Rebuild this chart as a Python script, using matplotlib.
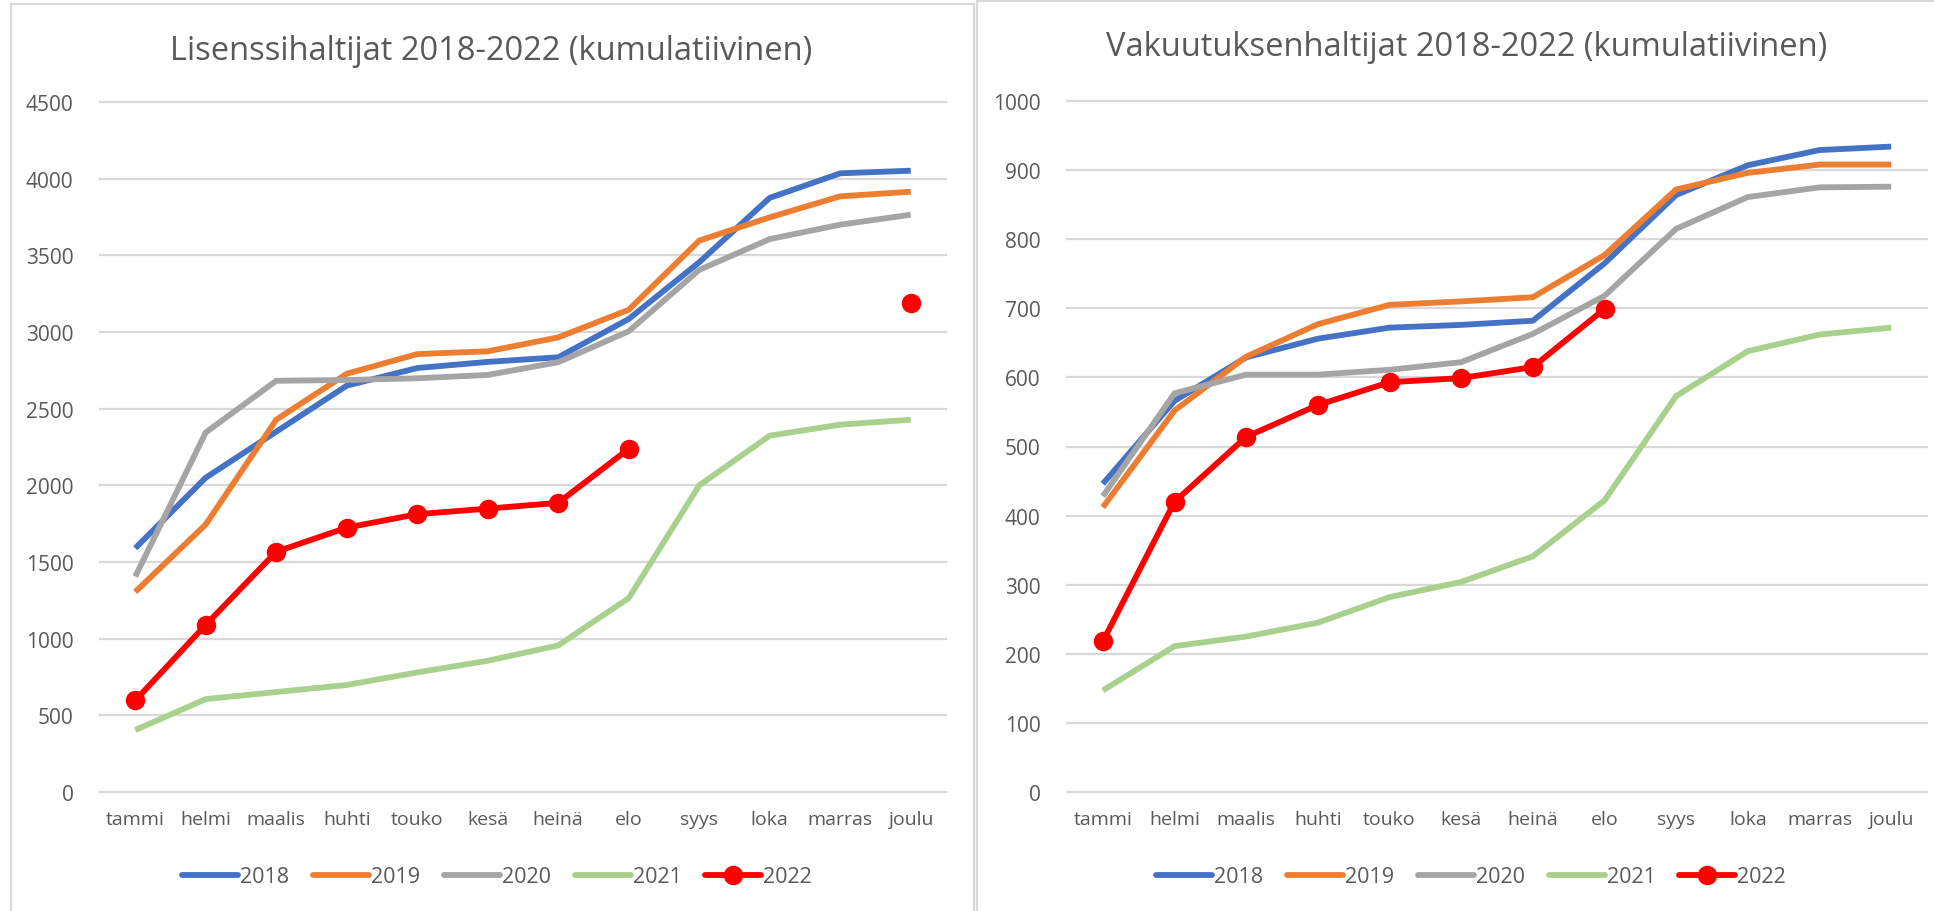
import numpy as np
import matplotlib
matplotlib.use("Agg")
import matplotlib.pyplot as plt
from matplotlib.patches import Rectangle

plt.rcParams['font.family'] = ['Open Sans', 'DejaVu Sans']

months = ["tammi", "helmi", "maalis", "huhti", "touko", "kesä", "heinä",
          "elo", "syys", "loka", "marras", "joulu"]
years = ["2018", "2019", "2020", "2021", "2022"]

nan = np.nan
# Lisenssihaltijat
lic_2018 = [1590, 2050, 2350, 2650, 2765, 2805, 2835, 3085, 3455, 3875, 4035, 4052]
lic_2019 = [1305, 1745, 2428, 2728, 2856, 2874, 2965, 3145, 3596, 3748, 3885, 3915]
lic_2020 = [1405, 2345, 2682, 2687, 2698, 2720, 2803, 3005, 3405, 3606, 3700, 3765]
lic_2021 = [404, 606, 652, 698, 780, 856, 956, 1265, 2000, 2324, 2396, 2428]
lic_2022 = [597, 1090, 1567, 1724, 1812, 1848, 1886, 2238, nan, nan, nan, 3192]

# Vakuutuksenhaltijat
ins_2018 = [446, 566, 629, 656, 672, 676, 682, 765, 864, 907, 929, 934]
ins_2019 = [412, 552, 630, 677, 705, 710, 716, 777, 872, 896, 908, 908]
ins_2020 = [428, 577, 604, 604, 611, 622, 663, 718, 815, 861, 875, 876]
ins_2021 = [147, 211, 225, 245, 282, 304, 341, 422, 573, 638, 662, 672]
ins_2022 = [218, 420, 514, 560, 593, 599, 615, 699, nan, nan, nan, nan]

lic_ticks = [0, 500, 1000, 1500, 2000, 2500, 3000, 3500, 4000, 4500]
ins_ticks = [0, 100, 200, 300, 400, 500, 600, 700, 800, 900, 1000]

titles = ["Lisenssihaltijat 2018-2022 (kumulatiivinen)",
          "Vakuutuksenhaltijat 2018-2022 (kumulatiivinen)"]

colors = ["#4472C4", "#ED7D31", "#A5A5A5", "#A9D18E", "#FF0000"]
TXT = "#595959"
GRID = "#D9D9D9"

W, H = 1934, 912
fig = plt.figure(figsize=(W / 100, H / 100), dpi=100)

# panel frames
for (x0, x1, y0) in [(11, 974, 5), (977, 1940, 2)]:
    fig.patches.append(Rectangle((x0 / W, -0.05), (x1 - x0) / W, (H - y0) / H + 0.05,
                                 transform=fig.transFigure, fill=False,
                                 edgecolor=GRID, linewidth=1.6))

def fx(px):
    return px / W

def fy(py):
    return 1 - py / H

panels = [
    dict(series=[lic_2018, lic_2019, lic_2020, lic_2021, lic_2022], ticks=lic_ticks,
         x0=100, x1=946, ytop=103, ybot=793, title=titles[0], tx=491, ty=52, lx=497),
    dict(series=[ins_2018, ins_2019, ins_2020, ins_2021, ins_2022], ticks=ins_ticks,
         x0=1067, x1=1927, ytop=102, ybot=793, title=titles[1], tx=1467, ty=48, lx=1471),
]

x = np.arange(len(months))
for p in panels:
    ax = fig.add_axes([fx(p["x0"]), fy(p["ybot"]), fx(p["x1"] - p["x0"]),
                       (p["ybot"] - p["ytop"]) / H])
    ax.set_xlim(-0.5, len(months) - 0.5)
    ax.set_ylim(p["ticks"][0], p["ticks"][-1])
    ax.set_yticks(p["ticks"])
    ax.set_xticks(x)
    ax.set_xticklabels(months)
    for s in ax.spines.values():
        s.set_visible(False)
    ax.tick_params(axis='both', length=0, colors=TXT)
    ax.tick_params(axis='y', pad=19, labelsize=15)
    ax.tick_params(axis='x', pad=13, labelsize=14)
    for t in p["ticks"]:
        ax.axhline(t, color=GRID, lw=1.6, zorder=0, clip_on=False)
    handles = []
    for i, (vals, c) in enumerate(zip(p["series"], colors)):
        if i == 4:
            ln, = ax.plot(x, vals, color=c, lw=4.2, marker='o', markersize=13,
                          solid_capstyle='round', zorder=5)
        else:
            ln, = ax.plot(x, vals, color=c, lw=4.2, solid_capstyle='butt',
                          solid_joinstyle='round', zorder=3)
        handles.append(ln)
    fig.text(fx(p["tx"]), fy(p["ty"]), p["title"], ha='center', va='center',
             fontsize=23.5, color=TXT)
    leg = fig.legend(handles, years, loc='center', bbox_to_anchor=(fx(p["lx"]), fy(878)),
                     ncol=5, frameon=False, fontsize=15.5, handlelength=2.6,
                     handletextpad=0.1, columnspacing=1.1, labelcolor=TXT)
    for lh in leg.get_lines():
        lh.set_solid_capstyle('round')

fig.savefig("out.png", dpi=100, facecolor="white")
